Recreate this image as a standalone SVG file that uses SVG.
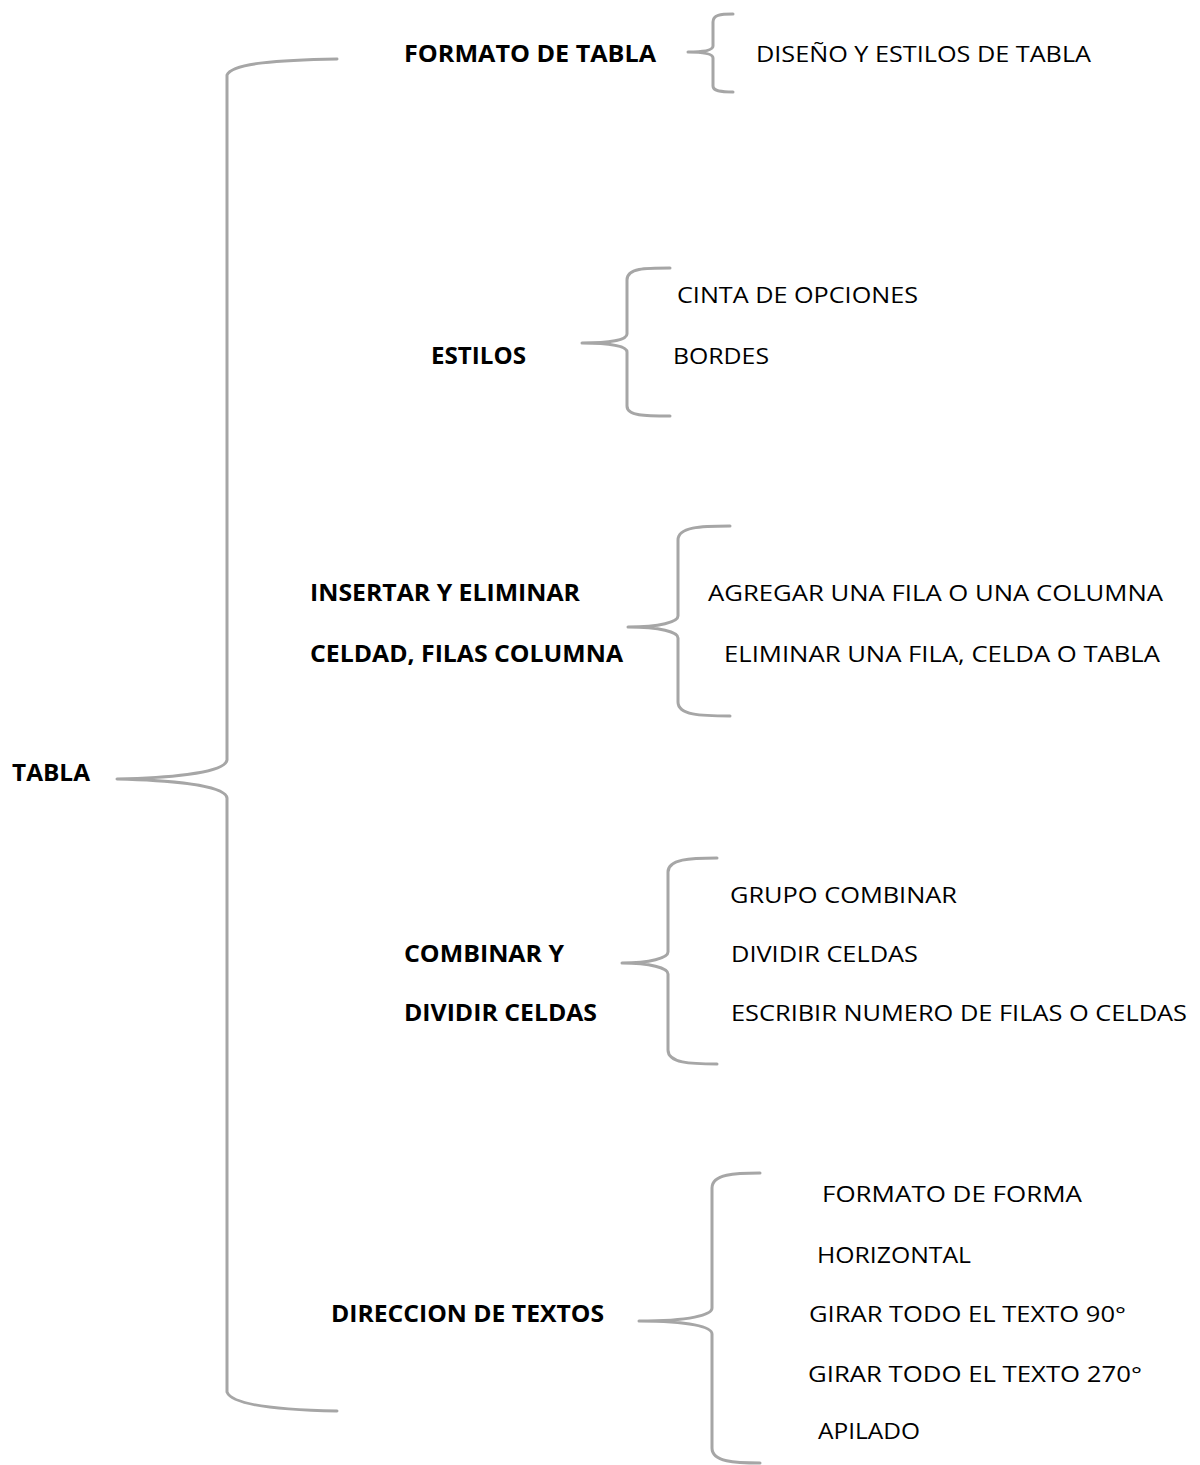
<svg xmlns="http://www.w3.org/2000/svg" width="1200" height="1465" viewBox="0 0 1200 1465">
<style>
.b{fill:none;stroke:#a6a6a6;stroke-width:3;stroke-linecap:round;stroke-linejoin:round}
text{font-family:"Open Sans","Liberation Sans",Arial,sans-serif;font-size:22.5px;fill:#000}
.h{font-weight:bold}
</style>
<rect width="1200" height="1465" fill="#fff"/>
<g id="connectors">
<path class="b" d="M337,59 C280,60 232,63 227,75 L227,760 C225,774 160,778 117,779 C160,780 225,784 227,798 L227,1392 C232,1405 280,1410 337,1411"/>
<path class="b" d="M733,14 C720,14 713,15 713,22 L713,46 C713,50 705,52 688,52 C705,52 713,54 713,58 L713,86 C713,91 720,92 733,92"/>
<path class="b" d="M670,268 C645,268 627,268 627,280 L627,334 C627,340 610,343 582,343 C610,343 627,346 627,352 L627,406 C627,416 645,416 670,416"/>
<path class="b" d="M730,526 C700,526 678,527 678,540 L678,616 C678,622 660,627 628,627 C660,627 678,632 678,638 L678,702 C678,715 700,716 730,716"/>
<path class="b" d="M717,858 C690,858 668,859 668,872 L668,952 C668,958 650,963 622,963 C650,963 668,968 668,974 L668,1050 C668,1063 690,1064 717,1064"/>
<path class="b" d="M760,1173 C735,1173 712,1174 712,1188 L712,1308 C712,1315 690,1321 639,1321 C690,1321 712,1327 712,1334 L712,1448 C712,1462 735,1463 760,1463"/>
</g>
<g id="n-tabla"><text class="h" x="12" y="781" textLength="78" lengthAdjust="spacingAndGlyphs">TABLA</text></g>
<g id="n-formato"><text class="h" x="404" y="62" textLength="252" lengthAdjust="spacingAndGlyphs">FORMATO DE TABLA</text></g>
<g id="n-diseno"><text x="756" y="62" textLength="335" lengthAdjust="spacingAndGlyphs">DISEÑO Y ESTILOS DE TABLA</text></g>
<g id="n-estilos"><text class="h" x="431" y="364" textLength="95" lengthAdjust="spacingAndGlyphs">ESTILOS</text></g>
<g id="n-cinta"><text x="677" y="303" textLength="241" lengthAdjust="spacingAndGlyphs">CINTA DE OPCIONES</text></g>
<g id="n-bordes"><text x="673" y="364" textLength="96" lengthAdjust="spacingAndGlyphs">BORDES</text></g>
<g id="n-insertar">
<text class="h" x="310" y="601" textLength="270" lengthAdjust="spacingAndGlyphs">INSERTAR Y ELIMINAR</text>
<text class="h" x="310" y="662" textLength="313" lengthAdjust="spacingAndGlyphs">CELDAD, FILAS COLUMNA</text>
</g>
<g id="n-agregar"><text x="708" y="601" textLength="455" lengthAdjust="spacingAndGlyphs">AGREGAR UNA FILA O UNA COLUMNA</text></g>
<g id="n-eliminar"><text x="724" y="662" textLength="436" lengthAdjust="spacingAndGlyphs">ELIMINAR UNA FILA, CELDA O TABLA</text></g>
<g id="n-combinar">
<text class="h" x="404" y="962" textLength="160" lengthAdjust="spacingAndGlyphs">COMBINAR Y</text>
<text class="h" x="404" y="1021" textLength="193" lengthAdjust="spacingAndGlyphs">DIVIDIR CELDAS</text>
</g>
<g id="n-grupo"><text x="730" y="903" textLength="227" lengthAdjust="spacingAndGlyphs">GRUPO COMBINAR</text></g>
<g id="n-dividir"><text x="731" y="962" textLength="187" lengthAdjust="spacingAndGlyphs">DIVIDIR CELDAS</text></g>
<g id="n-escribir"><text x="731" y="1021" textLength="456" lengthAdjust="spacingAndGlyphs">ESCRIBIR NUMERO DE FILAS O CELDAS</text></g>
<g id="n-direccion"><text class="h" x="331" y="1322" textLength="273" lengthAdjust="spacingAndGlyphs">DIRECCION DE TEXTOS</text></g>
<g id="n-forma"><text x="822" y="1202" textLength="260" lengthAdjust="spacingAndGlyphs">FORMATO DE FORMA</text></g>
<g id="n-horizontal"><text x="817" y="1263" textLength="154" lengthAdjust="spacingAndGlyphs">HORIZONTAL</text></g>
<g id="n-girar90"><text x="809" y="1322" textLength="317" lengthAdjust="spacingAndGlyphs">GIRAR TODO EL TEXTO 90°</text></g>
<g id="n-girar270"><text x="808" y="1382" textLength="334" lengthAdjust="spacingAndGlyphs">GIRAR TODO EL TEXTO 270°</text></g>
<g id="n-apilado"><text x="818" y="1439" textLength="102" lengthAdjust="spacingAndGlyphs">APILADO</text></g>
</svg>
